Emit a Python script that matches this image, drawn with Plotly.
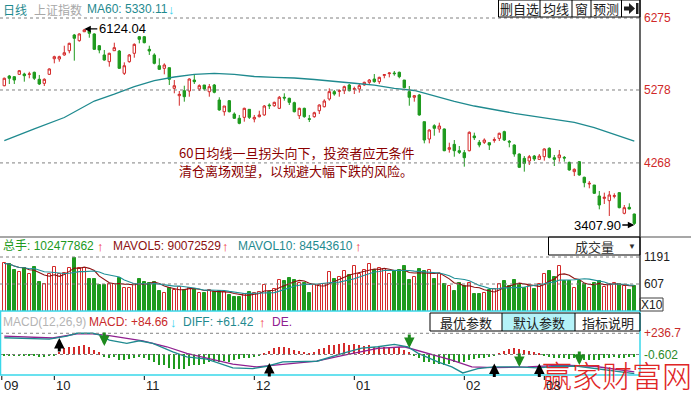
import plotly.graph_objects as go
import pandas as pd

# ---------------- data ----------------
idx = list(range(127))
opens = [5337,5471,5462,5495,5499,5495,5523,5426,5370,5495,5711,5707,5763,5822,6040,5961,6085,6095,6054,5891,
         5763,5670,5822,5818,5509,5670,5786,6016,6016,5841,5763,5614,5578,5587,5301,5199,5268,5264,5416,5292,
         5347,5254,5347,5139,4977,5130,4945,4886,4899,5010,4876,4908,4932,5070,5060,5024,5177,5163,5102,4922,
         5024,4880,4908,4991,5046,5153,5255,5259,5268,5347,5287,5292,5347,5384,5430,5393,5481,5504,5513,5523,
         5416,5255,5177,5209,4839,4599,4783,4738,4738,4456,4525,4437,4410,4437,4641,4553,4553,4548,4580,4608,
         4701,4567,4516,4391,4331,4294,4363,4317,4354,4470,4340,4340,4345,4276,4147,4285,4069,3976,3962,3810,
         3777,3745,3805,3856,3570,3653,3560]
highs = [5450,5486,5471,5555,5517,5530,5532,5486,5440,5578,5753,5753,5891,5933,6054,6063,6124.04,6118,6063,5901,
         5832,5794,5933,5832,5661,5776,5924,6026,6026,5891,5786,5716,5647,5587,5416,5264,5337,5440,5486,5356,
         5347,5361,5361,5177,5056,5139,4968,4932,5033,5014,4932,4991,5070,5093,5116,5195,5232,5171,5116,5033,
         5033,4932,4977,5079,5149,5301,5278,5287,5338,5361,5324,5361,5393,5430,5499,5462,5499,5523,5541,5532,
         5416,5333,5209,5222,4839,4733,4803,4825,4745,4548,4585,4502,4447,4705,4687,4585,4608,4548,4622,4687,
         4714,4585,4525,4400,4363,4378,4378,4391,4470,4484,4378,4447,4363,4285,4193,4294,4077,4017,3962,3879,
         3856,3879,3847,3865,3685,3708,3565]
lows = [5330,5361,5361,5486,5393,5440,5416,5347,5333,5486,5647,5670,5753,5786,5684,5947,6080,6002,5832,5786,
        5684,5601,5818,5569,5486,5656,5725,5924,5924,5763,5633,5555,5495,5347,5232,5060,5116,5185,5361,5264,
        5268,5185,5232,4991,4922,4968,4876,4803,4839,4876,4830,4899,4922,5014,5046,5014,5130,5070,4968,4876,
        4894,4834,4894,4945,5037,5130,5199,5185,5222,5259,5222,5241,5338,5361,5379,5361,5440,5453,5476,5440,
        5301,5060,5116,4922,4539,4539,4645,4687,4430,4410,4354,4391,4216,4428,4585,4484,4530,4447,4548,4571,
        4571,4484,4354,4197,4147,4239,4294,4308,4299,4331,4225,4285,4285,4160,4086,4091,3930,3916,3837,3625,
        3699,3533,3777,3639,3556,3625,3407.90]
closes = [5440,5440,5416,5545,5476,5500,5440,5361,5426,5569,5739,5739,5794,5924,5994,6054,6110,6063,5841,5832,
          5693,5786,5864,5578,5614,5763,5910,5980,5933,5818,5647,5564,5624,5426,5337,5218,5185,5430,5393,5338,
          5292,5324,5246,5001,5056,4977,4886,4816,5024,4899,4899,4932,5056,5060,5107,5177,5167,5107,4977,5024,
          4908,4872,4963,5070,5125,5255,5222,5268,5324,5268,5296,5338,5384,5416,5393,5453,5490,5513,5504,5462,
          5310,5177,5199,4932,4585,4724,4747,4779,4437,4479,4437,4414,4340,4692,4617,4516,4585,4516,4590,4678,
          4585,4557,4391,4207,4262,4354,4322,4363,4461,4345,4317,4378,4336,4170,4179,4101,3994,3985,3847,3685,
          3792,3824,3814,3648,3648,3630,3430]
volume = [1052,1030,908,864,944,828,972,648,612,814,980,814,850,944,1174,944,958,706,706,576,
          576,598,598,742,512,512,598,706,656,634,648,454,418,512,476,548,476,526,504,418,
          404,476,432,454,432,360,324,324,396,432,418,440,584,432,490,692,670,742,684,634,
          634,418,576,584,612,864,706,764,886,792,994,828,900,1030,900,958,936,814,886,900,
          994,684,756,922,886,900,706,828,598,562,454,634,562,634,396,396,418,468,490,612,
          670,562,684,598,526,562,490,598,814,886,764,994,670,670,526,670,598,526,634,670,
          540,598,634,598,562,468,562]
macd_hist = [-10,-12,-15,-12,-15,-18,-20,-26,-30,-22,-8,30,67,86,86,93,105,86,48,22,
             -26,-38,-26,-64,-64,-53,-38,-26,-38,-64,-83,-113,-120,-151,-158,-158,-158,-132,-120,-113,
             -102,-83,-76,-83,-76,-83,-64,-53,-45,-38,-26,-15,11,37,67,86,86,67,48,37,
             30,18,30,56,75,105,105,112,124,105,112,105,97,105,86,97,86,75,86,86,
             48,30,-8,-45,-83,-90,-102,-102,-113,-102,-90,-83,-83,-64,-56,-45,-45,-34,-8,11,
             37,60,67,56,48,37,22,11,-8,-26,-38,-38,-45,-53,-45,-53,-64,-64,-64,-64,
             -45,-38,-34,-38,-45,-26,-26]
ma60_idx = [0,3,6,12,18,22,26,30,34,38,42,46,50,54,58,62,66,70,74,78,82,86,90,94,98,102,106,110,114,118,122,126]
ma60_val = [4578,4655,4738,4897,5125,5222,5326,5409,5458,5495,5509,5495,5465,5454,5444,5423,5402,5371,5344,5299,
            5271,5195,5119,5056,5001,4955,4914,4876,4828,4758,4668,4571]
dif_idx = [0,9,12.5,14.5,17.7,19,21,24.5,27,29.7,33.7,36.5,40.5,45.7,49.7,52.5,55.7,62.5,68,71.5,74.7,78,80.7,
           82.7,86.7,89.5,91.7,94.7,98,102.7,106.7,110.7,114.7,118,121.5,126]
dif_val = [187,172,206,237,237,218,161,124,153,124,29,-27,-53,-151,-158,-132,-83,-76,18,71,86,113,86,
           15,-83,-140,-207,-158,-140,-140,-151,-132,-132,-154,-177,-214]
dea_idx = [0,9.7,14.5,17.7,21,27.7,32.5,36.5,40.5,45.7,50.5,55.7,62.5,68,74.7,80,84.7,89.5,93.5,98,104.7,111.5,118,126]
dea_val = [206,184,229,229,210,153,86,11,-42,-109,-140,-113,-76,-8,68,86,11,-64,-140,-147,-140,-121,-132,-196]
buy_idx = [11, 53, 98, 107]
buy_val = [185, -95, -100, -100]
sell_idx = [20, 81, 103, 115]
sell_val = [95, 73, -140, -118]
price_ticks = [6275, 5278, 4268]
vol_ticks = [1191, 607]
macd_ticks = [236.7, -0.602]
month_idx = [-0.5, 10, 28, 50, 70, 92, 108]
month_lbl = ["09", "10", "11", "12", "01", "02", "03"]

# ---------------- styles ----------------
RED = '#d42a2a'
GREEN = '#1e9a1e'
TEAL = '#1f8a8f'
PURPLE = '#902090'
DRED = '#8b0000'
CYAN = '#38d8ea'
NUM = 'Liberation Sans, Arial, Noto Sans CJK SC, sans-serif'
CJK = 'Noto Sans CJK SC, sans-serif'
PW, PH = 640, 375


def px(x):
    return x / PW


def py(y):
    return 1 - y / PH


def txt(x, y, s, color, size=12, anchor='left', family=NUM):
    return dict(x=px(x), y=py(y), xref='paper', yref='paper', text=s, showarrow=False,
                xanchor=anchor, yanchor='middle', font=dict(family=family, size=size, color=color))


mavol5 = pd.Series(volume).rolling(5, min_periods=1).mean()
mavol10 = pd.Series(volume).rolling(10, min_periods=1).mean()
up = [c >= o for o, c in zip(opens, closes)]

fig = go.Figure()
fig.add_trace(go.Candlestick(x=idx, open=opens, high=highs, low=lows, close=closes,
                             increasing=dict(line=dict(color=RED, width=1), fillcolor='white'),
                             decreasing=dict(line=dict(color=GREEN, width=1), fillcolor=GREEN),
                             whiskerwidth=0, xaxis='x', yaxis='y', hoverinfo='skip'))
fig.add_trace(go.Scatter(x=ma60_idx, y=ma60_val, mode='lines', line=dict(color=TEAL, width=1.3),
                         xaxis='x', yaxis='y'))
fig.add_trace(go.Bar(x=idx, y=volume, width=0.65,
                     marker=dict(color=['white' if u else GREEN for u in up],
                                 line=dict(color=[RED if u else GREEN for u in up], width=1)),
                     xaxis='x', yaxis='y2'))
fig.add_trace(go.Scatter(x=idx, y=mavol5, mode='lines', line=dict(color='#8c1010', width=1.1),
                         xaxis='x', yaxis='y2'))
fig.add_trace(go.Scatter(x=idx, y=mavol10, mode='lines', line=dict(color='#1f9098', width=1.1),
                         xaxis='x', yaxis='y2'))
fig.add_trace(go.Bar(x=idx, y=macd_hist, width=0.22,
                     marker=dict(color=[RED if v >= 0 else GREEN for v in macd_hist], line=dict(width=0)),
                     xaxis='x', yaxis='y3'))
fig.add_trace(go.Scatter(x=dea_idx, y=dea_val, mode='lines', line=dict(color=PURPLE, width=1.3),
                         xaxis='x', yaxis='y3'))
fig.add_trace(go.Scatter(x=dif_idx, y=dif_val, mode='lines', line=dict(color=TEAL, width=1.3),
                         xaxis='x', yaxis='y3'))

shapes = []
# dotted grid lines
for v in price_ticks:
    shapes.append(dict(type='line', xref='paper', yref='y', x0=0, x1=1, y0=v, y1=v,
                       line=dict(color='#808080', width=1, dash='dot')))
for v in vol_ticks:
    shapes.append(dict(type='line', xref='paper', yref='y2', x0=0, x1=1, y0=v, y1=v,
                       line=dict(color='#808080', width=1, dash='dot')))
for v in macd_ticks:
    shapes.append(dict(type='line', xref='paper', yref='y3', x0=0, x1=1, y0=v, y1=v,
                       line=dict(color='#808080', width=1, dash='dot')))
# frame
shapes += [
    dict(type='line', xref='paper', yref='paper', x0=px(640), x1=px(640), y0=py(0), y1=py(311),
         line=dict(color='black', width=1.2)),
    dict(type='line', xref='paper', yref='paper', x0=0, x1=px(691), y0=py(237), y1=py(237),
         line=dict(color='#505050', width=1.2)),
    dict(type='rect', xref='paper', yref='paper', x0=px(0.5), x1=px(640), y0=py(311), y1=py(375),
         line=dict(color=CYAN, width=1.5)),
    dict(type='rect', xref='paper', yref='paper', x0=px(640), x1=px(663), y0=py(298), y1=py(311),
         line=dict(color='#404040', width=1)),
    # top buttons
    dict(type='rect', xref='paper', yref='paper', x0=px(498.5), x1=px(640), y0=py(0), y1=py(17),
         line=dict(color='black', width=1)),
    # volume selector box
    dict(type='rect', xref='paper', yref='paper', x0=px(548.5), x1=px(640), y0=py(237), y1=py(255),
         line=dict(color='black', width=1)),
    # MACD buttons
    dict(type='rect', xref='paper', yref='paper', x0=px(502), x1=px(575), y0=py(313), y1=py(331),
         fillcolor='#b4f2f8', line=dict(width=0), layer='above'),
    dict(type='rect', xref='paper', yref='paper', x0=px(430), x1=px(640), y0=py(313), y1=py(331),
         line=dict(color='black', width=1)),
    # icon arrow
    dict(type='path', xref='paper', yref='paper',
         path=f"M {px(624)},{py(6.5)} L {px(629)},{py(6.5)} L {px(629)},{py(3)} L {px(635)},{py(8.5)} "
              f"L {px(629)},{py(14)} L {px(629)},{py(10.5)} L {px(624)},{py(10.5)} Z",
         fillcolor='#202020', line=dict(width=0)),
    dict(type='rect', xref='paper', yref='paper', x0=px(636), x1=px(638.5), y0=py(3), y1=py(14),
         fillcolor='#202020', line=dict(width=0)),
]
for xd in [540, 572, 591, 621.5]:
    shapes.append(dict(type='line', xref='paper', yref='paper', x0=px(xd), x1=px(xd), y0=py(0), y1=py(17),
                       line=dict(color='black', width=1)))
for xd in [502, 575]:
    shapes.append(dict(type='line', xref='paper', yref='paper', x0=px(xd), x1=px(xd), y0=py(313), y1=py(331),
                       line=dict(color='black', width=1)))
for m in month_idx:
    shapes.append(dict(type='line', xref='x', yref='paper', x0=m, x1=m, y0=py(376), y1=py(380),
                       line=dict(color='black', width=1)))

ann = [
    txt(1, 9, '日线', TEAL, 12, family=CJK),
    txt(32, 9, '上证指数', '#a8a8a8', 12, family=CJK),
    txt(85, 9, 'MA60: 5330.11', TEAL, 12),
    txt(166, 9, '<b>↓</b>', '#40d0ee', 13),
    txt(519, 8.5, '删自选', '#202020', 13, 'center', CJK),
    txt(556, 8.5, '均线', '#202020', 13, 'center', CJK),
    txt(581.5, 8.5, '窗', '#202020', 13, 'center', CJK),
    txt(606, 8.5, '预测', '#202020', 13, 'center', CJK),
    txt(177, 152, '60日均线一旦拐头向下，投资者应无条件', DRED, 13, family=CJK),
    txt(177, 170, '清仓离场观望，以规避大幅下跌的风险。', DRED, 13, family=CJK),
    txt(1, 246, '总手: 102477862', GREEN, 12),
    txt(95, 246, '<b>↑</b>', '#f03030', 13),
    txt(111, 246, 'MAVOL5: 90072529', '#8c1010', 12),
    txt(220, 246, '<b>↑</b>', '#f03030', 13),
    txt(236, 246, 'MAVOL10: 84543610', TEAL, 12),
    txt(353, 246, '<b>↑</b>', '#f03030', 13),
    txt(594, 246, '成交量', '#303030', 13, 'center', CJK),
    txt(632, 246, '▼', '#303030', 8, 'center'),
    txt(651.5, 304.5, 'X10', '#202020', 12, 'center'),
    txt(1, 322, 'MACD(12,26,9)', '#b4b4b4', 12),
    txt(87, 322, 'MACD: +84.66', '#c82a2a', 12),
    txt(168, 322, '<b>↓</b>', '#40d0ee', 13),
    txt(181, 322, 'DIFF: +61.42', TEAL, 12),
    txt(257, 322, '<b>↑</b>', '#f03030', 13),
    txt(270, 322, 'DE.', PURPLE, 12),
    txt(466, 322, '最优参数', '#202020', 13, 'center', CJK),
    txt(538.5, 322, '默认参数', '#202020', 13, 'center', CJK),
    txt(607.5, 322, '指标说明', '#202020', 13, 'center', CJK),
    txt(642, 333, '+236.7', '#c82a2a', 12),
    txt(642, 355, '-0.602', '#2a8a2a', 12),
    txt(642, 257, '1191', '#202020', 12),
    txt(642, 284, '607', '#202020', 12),
    dict(x=px(617), y=py(374), xref='paper', yref='paper', text='赢家财富网', showarrow=False,
         xanchor='center', yanchor='middle',
         font=dict(family='Noto Sans CJK SC, sans-serif', size=30, color='#e02626', weight=300)),
]
for v in price_ticks:
    ann.append(dict(x=px(642), y=v, xref='paper', yref='y', text=str(v), showarrow=False,
                    xanchor='left', yanchor='middle', font=dict(family=NUM, size=12, color='#d02828')))
for m, l in zip(month_idx, month_lbl):
    ann.append(dict(x=m, y=py(385), xref='x', yref='paper', text=l, showarrow=False,
                    xanchor='left', yanchor='middle', xshift=0,
                    font=dict(family=NUM, size=13, color='#202020')))
# high / low markers
ann.append(dict(x=16, y=6124.04, xref='x', yref='y', text='6124.04', showarrow=True, ax=38, ay=0,
                arrowhead=2, arrowsize=1, arrowwidth=1.3, arrowcolor='black', standoff=0,
                font=dict(family=NUM, size=13, color='black')))
ann.append(dict(x=126, y=3407.90, xref='x', yref='y', text='3407.90', showarrow=True, ax=-37, ay=0,
                arrowhead=2, arrowsize=1, arrowwidth=1.3, arrowcolor='black', standoff=0,
                font=dict(family=NUM, size=13, color='black')))
# MACD cross signals
for i, v in zip(buy_idx, buy_val):
    ann.append(dict(x=i, y=v, xref='x', yref='y3', text='', showarrow=True, ax=0, ay=15,
                    arrowhead=2, arrowsize=0.7, arrowwidth=3, arrowcolor='black', standoff=0))
for i, v in zip(sell_idx, sell_val):
    ann.append(dict(x=i, y=v, xref='x', yref='y3', text='', showarrow=True, ax=0, ay=-15,
                    arrowhead=2, arrowsize=0.7, arrowwidth=3, arrowcolor='#1e8a1e', standoff=0))

fig.update_layout(
    width=691, height=394, margin=dict(l=0, r=51, t=0, b=19),
    paper_bgcolor='white', plot_bgcolor='white', showlegend=False, bargap=0,
    xaxis=dict(range=[-0.86, 127.14], visible=False, rangeslider=dict(visible=False), fixedrange=True),
    yaxis=dict(domain=[py(237), 1], range=[3241.85, 6524.3], visible=False, fixedrange=True),
    yaxis2=dict(domain=[py(311), py(237)], range=[23.0, 1623.6], visible=False, fixedrange=True),
    yaxis3=dict(domain=[0, py(311)], range=[-230, 486], visible=False, fixedrange=True),
    shapes=shapes, annotations=ann, hovermode=False,
)
fig.write_html("out.html", config={'displayModeBar': False},
               post_script="document.body.style.margin='0';document.body.style.overflow='hidden';")
